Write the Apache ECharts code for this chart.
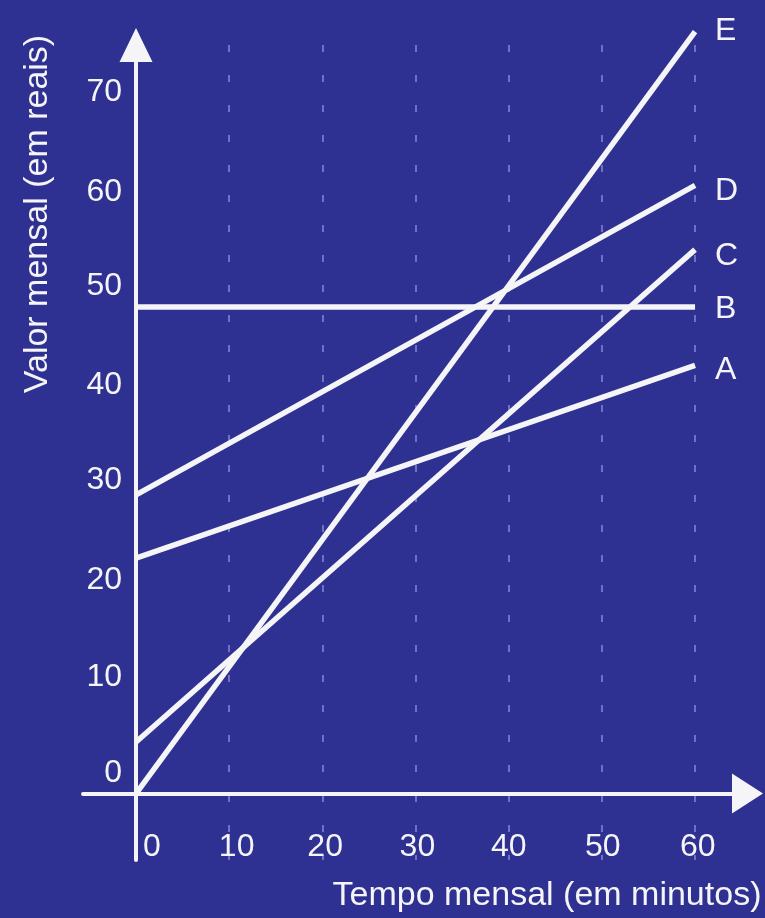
<!DOCTYPE html>
<html>
<head>
<meta charset="utf-8">
<script src="https://cdn.jsdelivr.net/npm/echarts@6/dist/echarts.min.js"></script>
<style>
html,body{margin:0;padding:0;background:#2e3192;}
#chart{width:765px;height:918px;}
</style>
</head>
<body>
<div id="chart"></div>
<script>
// ---- data ----
const minutes = [0, 60];
const planNames = ['A', 'B', 'C', 'D', 'E'];
const planA = [24.2, 44.0];
const planB = [50.0, 50.0];
const planC = [5.3, 55.9];
const planD = [30.7, 62.5];
const planE = [0.0, 78.3];
const xGridValues = [10, 20, 30, 40, 50, 60];
const xTickLabels = ['0', '10', '20', '30', '40', '50', '60'];
const xTickLabelPos = [1.7, 10.8, 20.3, 30.2, 40, 50.1, 60.3];
const yTickLabels = ['0', '10', '20', '30', '40', '50', '60', '70'];
const yTickLabelPos = [2.1, 12.0, 21.9, 32.2, 42.0, 52.1, 61.8, 72.1];
const xTitle = 'Tempo mensal (em minutos)';
const yTitle = 'Valor mensal (em reais)';

// ---- styles ----
const FONT = '"Liberation Sans", Arial, Helvetica, sans-serif';
const WHITE = '#f5f5f7';
const END_LABEL_NUDGE = {A: 5, B: 2, C: 7, D: 6, E: 0};
const planValues = [planA, planB, planC, planD, planE];

function nearestLabel(positions, labels) {
  return function (v) {
    let best = 0, d = Infinity;
    positions.forEach((p, k) => { if (Math.abs(p - v) < d) { d = Math.abs(p - v); best = k; } });
    return labels[best];
  };
}

const chart = echarts.init(document.getElementById('chart'), null, {renderer: 'canvas'});

const series = planNames.map((name, i) => ({
  name: name,
  type: 'line',
  data: minutes.map((m, j) => [m, planValues[i][j]]),
  symbol: 'none',
  clip: false,
  silent: true,
  lineStyle: {color: WHITE, width: 5.5},
  itemStyle: {color: WHITE},
  endLabel: {
    show: true,
    formatter: '{a}',
    color: WHITE,
    fontFamily: FONT,
    fontSize: 32,
    distance: 20,
    offset: [0, END_LABEL_NUDGE[name]]
  },
  z: 3
}));

chart.setOption({
  backgroundColor: '#2e3192',
  animation: false,
  grid: {left: 83, right: 17.5, top: 45, bottom: 58, containLabel: false, outerBoundsMode: 'none'},
  xAxis: {
    type: 'value',
    position: 'bottom',
    offset: -66.5,
    min: -5.69,
    max: 65.63,
    axisLine: {
      show: true,
      onZero: false,
      symbol: ['none', 'triangle'],
      symbolSize: [40, 31],
      lineStyle: {color: WHITE, width: 4}
    },
    axisTick: {show: false, customValues: xGridValues},
    axisLabel: {
      customValues: xTickLabelPos,
      formatter: nearestLabel(xTickLabelPos, xTickLabels),
      color: WHITE,
      fontFamily: FONT,
      fontSize: 32,
      margin: 38
    },
    splitLine: {
      show: true,
      lineStyle: {color: 'rgba(190,195,255,0.45)', width: 2, type: [7, 23]}
    }
  },
  yAxis: {
    type: 'value',
    position: 'left',
    offset: -53,
    min: -6.83,
    max: 76.93,
    axisLine: {
      show: true,
      onZero: false,
      symbol: ['none', 'triangle'],
      symbolSize: [33, 34],
      lineStyle: {color: WHITE, width: 4}
    },
    axisTick: {show: false},
    axisLabel: {
      customValues: yTickLabelPos,
      formatter: nearestLabel(yTickLabelPos, yTickLabels),
      color: WHITE,
      fontFamily: FONT,
      fontSize: 32,
      margin: 14
    },
    splitLine: {show: false}
  },
  graphic: [
    {
      type: 'text',
      x: 547, y: 896,
      silent: true,
      style: {
        text: xTitle,
        fill: WHITE,
        fontFamily: FONT,
        fontSize: 34,
        align: 'center', verticalAlign: 'middle',
        textAlign: 'center', textVerticalAlign: 'middle'
      }
    },
    {
      type: 'text',
      x: 38, y: 214,
      rotation: Math.PI / 2,
      silent: true,
      style: {
        text: yTitle,
        fill: WHITE,
        fontFamily: FONT,
        fontSize: 34,
        align: 'center', verticalAlign: 'middle',
        textAlign: 'center', textVerticalAlign: 'middle'
      }
    }
  ],
  series: series
});
</script>
</body>
</html>
